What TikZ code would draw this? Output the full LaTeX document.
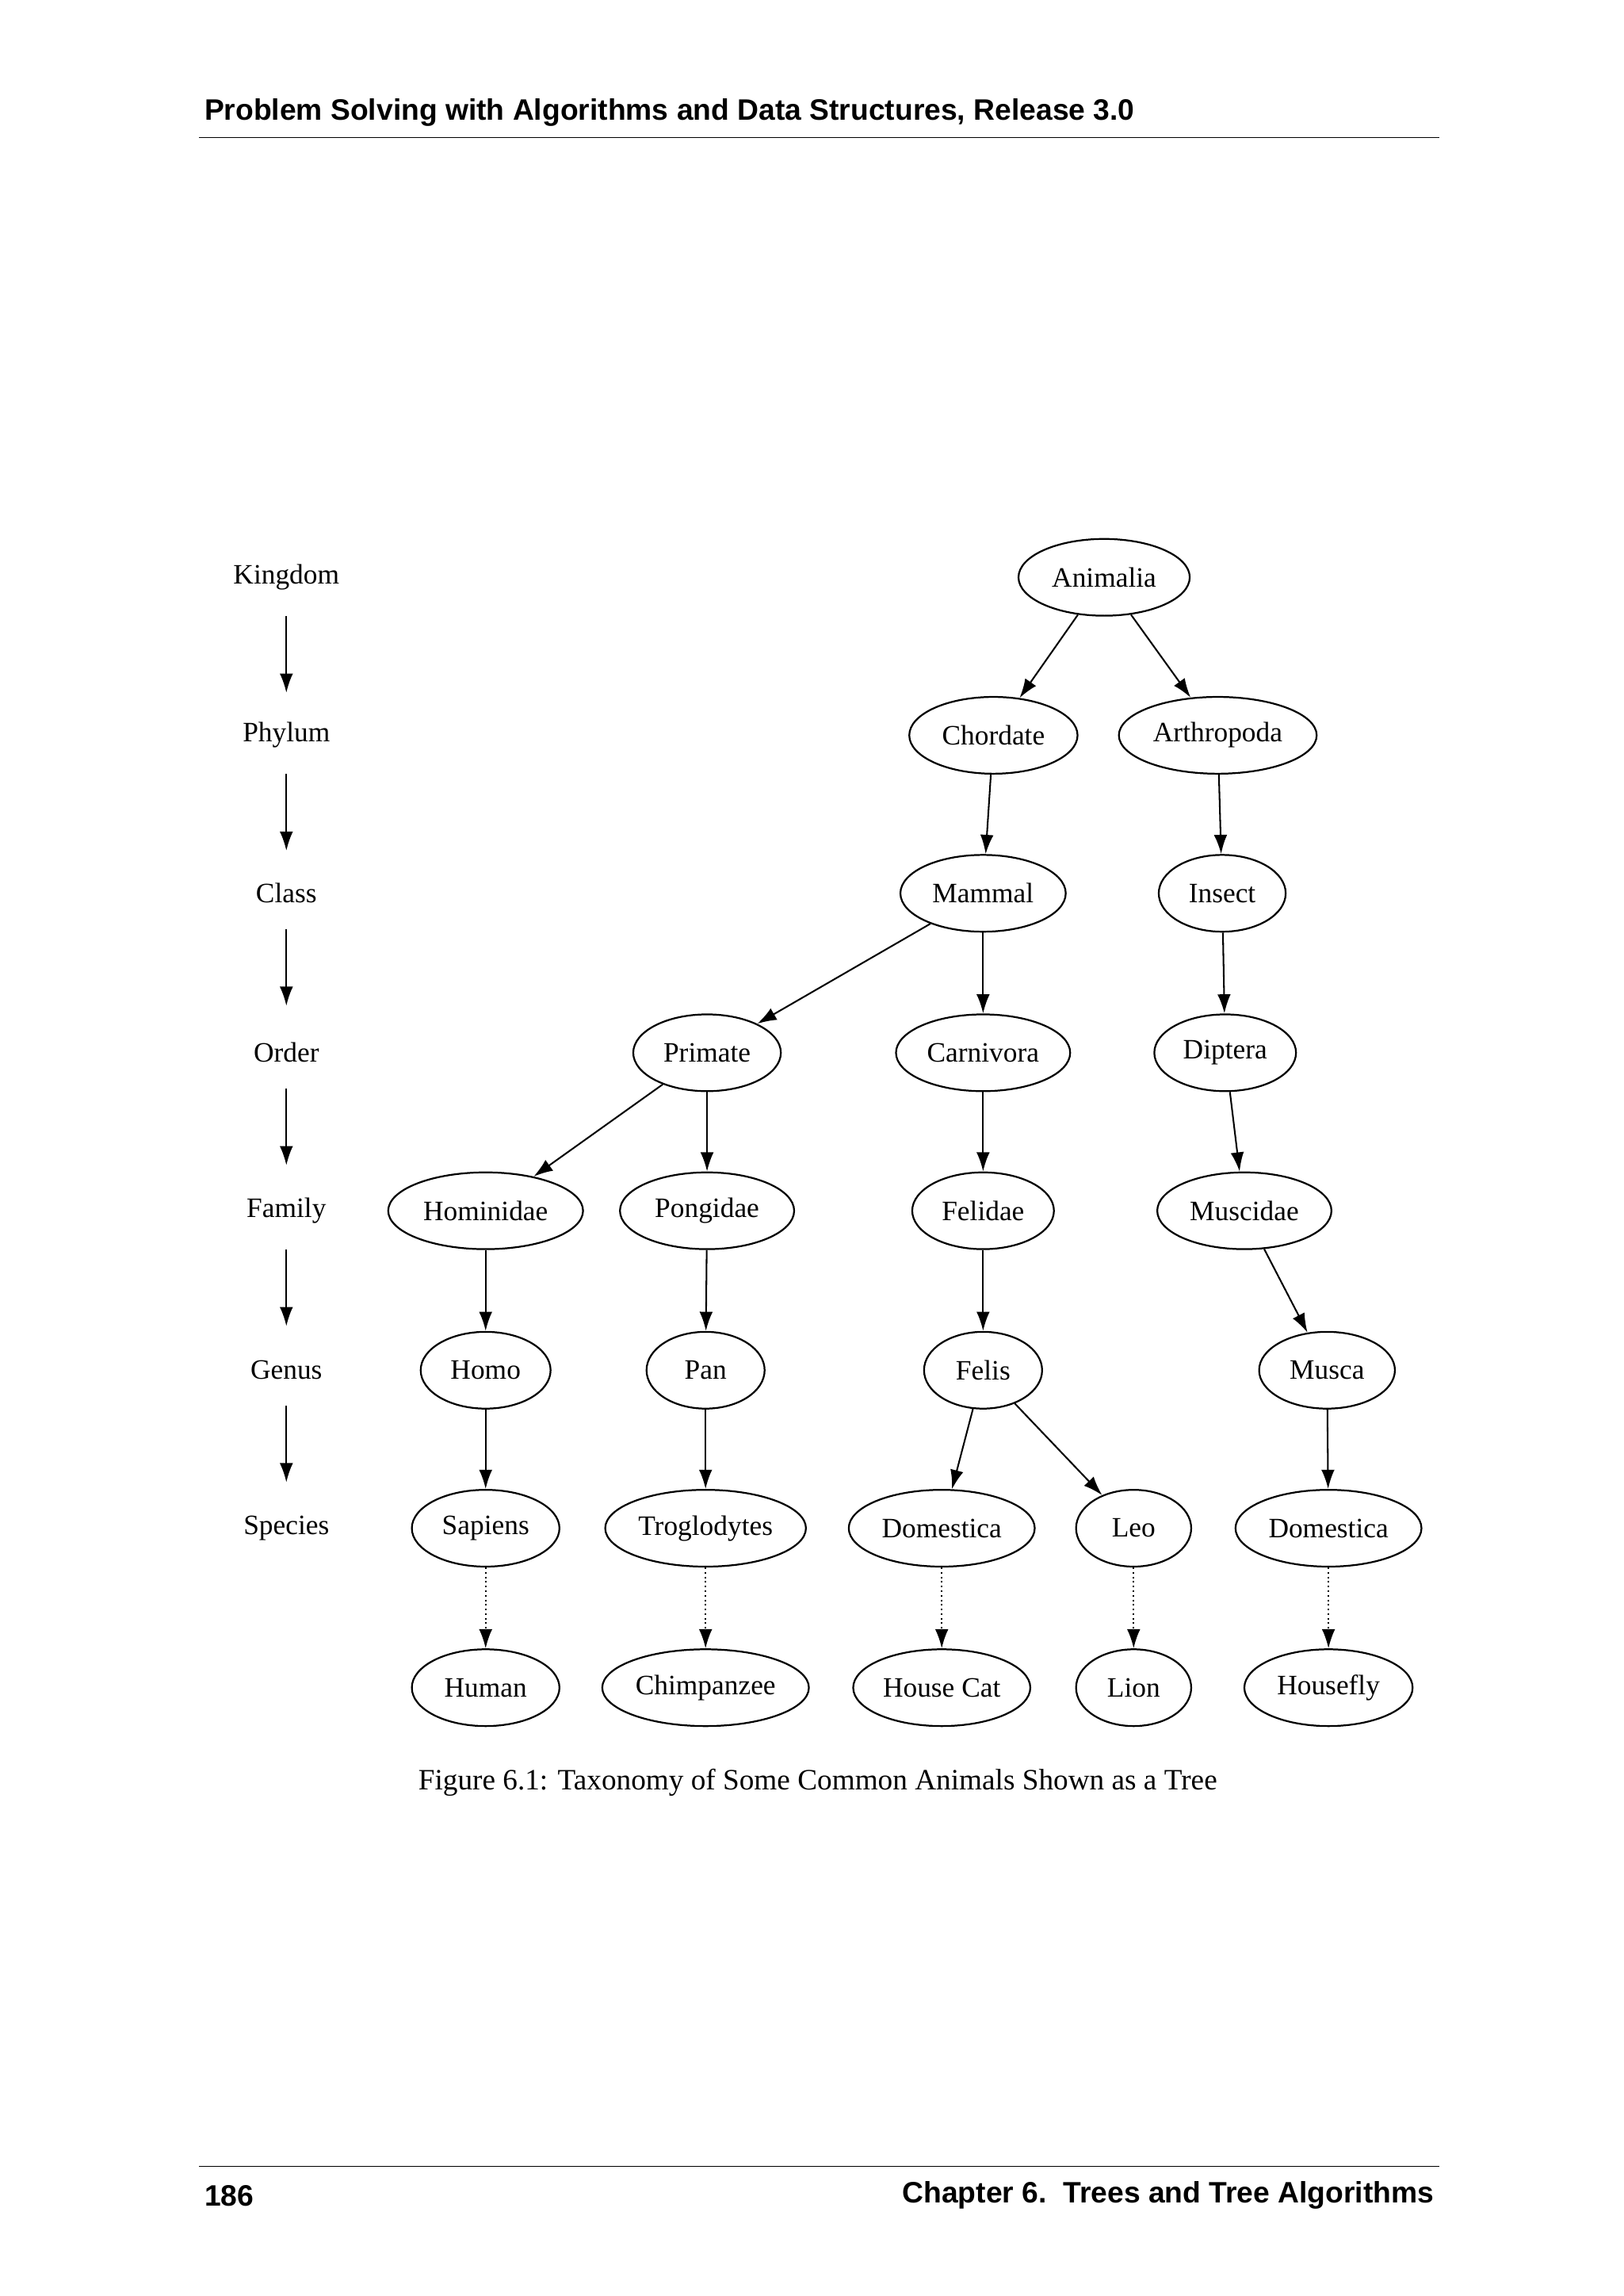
\documentclass[tikz,border=0pt]{standalone}
\usepackage{fontspec}
\setmainfont{Liberation Serif}
\newfontfamily\hdr{Liberation Sans}
\usetikzlibrary{shapes.geometric,arrows.meta}
\begin{document}
\begin{tikzpicture}[x=1pt,y=-1pt,
  nd/.style={draw,ellipse,line width=1.2pt,inner sep=0pt,minimum height=52pt,font=\fontsize{19}{22}\selectfont},
  lbl/.style={font=\fontsize{19}{22}\selectfont},
  ar/.style={-{Latex[length=13pt,width=9pt]},line width=1.1pt},
  dt/.style={ar,dotted}]
\useasboundingbox (0,0) rectangle (1100,1555);
\node[anchor=west,font=\hdr\bfseries\fontsize{20}{24}\selectfont] at (135,76) {Problem Solving with Algorithms and Data Structures, Release 3.0};
\draw[line width=0.6pt] (135,93) -- (975,93);
\draw[line width=0.6pt] (135,1467) -- (975,1467);
\node[anchor=west,font=\hdr\bfseries\fontsize{20}{24}\selectfont] at (135,1487) {186};
\node[anchor=east,font=\hdr\bfseries\fontsize{20}{24}\selectfont] at (975,1487) {Chapter 6.\ \ Trees and Tree Algorithms};
\node[font=\fontsize{20}{24}\selectfont] (cap) at (554,1207) {Figure 6.1: Taxonomy of Some Common Animals Shown as a Tree};
% levels
\foreach \t/\y [count=\i] in {Kingdom/391,Phylum/498,Class/605,Order/713,Family/820,Genus/928,Species/1035}
  \node[lbl] (L\i) at (194,\y) {\t};
\foreach \i [evaluate=\i as \j using int(\i+1)] in {1,...,6}
  \draw[ar] (L\i.south) ++(0,14) coordinate (s\i) -- ++(0,52) coordinate (e\i);
% nodes
\node[nd,minimum width=116pt] (ani) at (748,391) {Animalia};
\node[nd,minimum width=114pt] (cho) at (673,498) {Chordate};
\node[nd,minimum width=134pt] (art) at (825,498) {Arthropoda};
\node[nd,minimum width=112pt] (mam) at (666,605) {Mammal};
\node[nd,minimum width=86pt] (ins) at (828,605) {Insect};
\node[nd,minimum width=100pt] (pri) at (479,713) {Primate};
\node[nd,minimum width=118pt] (car) at (666,713) {Carnivora};
\node[nd,minimum width=96pt] (dip) at (830,713) {Diptera};
\node[nd,minimum width=132pt] (hom) at (329,820) {Hominidae};
\node[nd,minimum width=118pt] (pon) at (479,820) {Pongidae};
\node[nd,minimum width=96pt] (fel) at (666,820) {Felidae};
\node[nd,minimum width=118pt] (mus) at (843,820) {Muscidae};
\node[nd,minimum width=88pt] (homo) at (329,928) {Homo};
\node[nd,minimum width=80pt] (pan) at (478,928) {Pan};
\node[nd,minimum width=80pt] (felis) at (666,928) {Felis};
\node[nd,minimum width=92pt] (musca) at (899,928) {Musca};
\node[nd,minimum width=100pt] (sap) at (329,1035) {Sapiens};
\node[nd,minimum width=136pt] (tro) at (478,1035) {Troglodytes};
\node[nd,minimum width=126pt] (dom) at (638,1035) {Domestica};
\node[nd,minimum width=78pt] (leo) at (768,1035) {Leo};
\node[nd,minimum width=126pt] (dom2) at (900,1035) {Domestica};
\node[nd,minimum width=100pt] (hum) at (329,1143) {Human};
\node[nd,minimum width=140pt] (chi) at (478,1143) {Chimpanzee};
\node[nd,minimum width=120pt] (hc) at (638,1143) {House Cat};
\node[nd,minimum width=78pt] (lion) at (768,1143) {Lion};
\node[nd,minimum width=114pt] (hf) at (900,1143) {Housefly};
% edges
\draw[ar] (ani) -- (cho);
\draw[ar] (ani) -- (art);
\draw[ar] (cho) -- (mam);
\draw[ar] (art) -- (ins);
\draw[ar] (mam) -- (pri);
\draw[ar] (mam) -- (car);
\draw[ar] (ins) -- (dip);
\draw[ar] (pri) -- (hom);
\draw[ar] (pri) -- (pon);
\draw[ar] (car) -- (fel);
\draw[ar] (dip) -- (mus);
\draw[ar] (hom) -- (homo);
\draw[ar] (pon) -- (pan);
\draw[ar] (fel) -- (felis);
\draw[ar] (mus) -- (musca);
\draw[ar] (homo) -- (sap);
\draw[ar] (pan) -- (tro);
\draw[ar] (felis) -- (dom);
\draw[ar] (felis) -- (leo);
\draw[ar] (musca) -- (dom2);
\draw[dt] (sap) -- (hum);
\draw[dt] (tro) -- (chi);
\draw[dt] (dom) -- (hc);
\draw[dt] (leo) -- (lion);
\draw[dt] (dom2) -- (hf);
\end{tikzpicture}
\end{document}
